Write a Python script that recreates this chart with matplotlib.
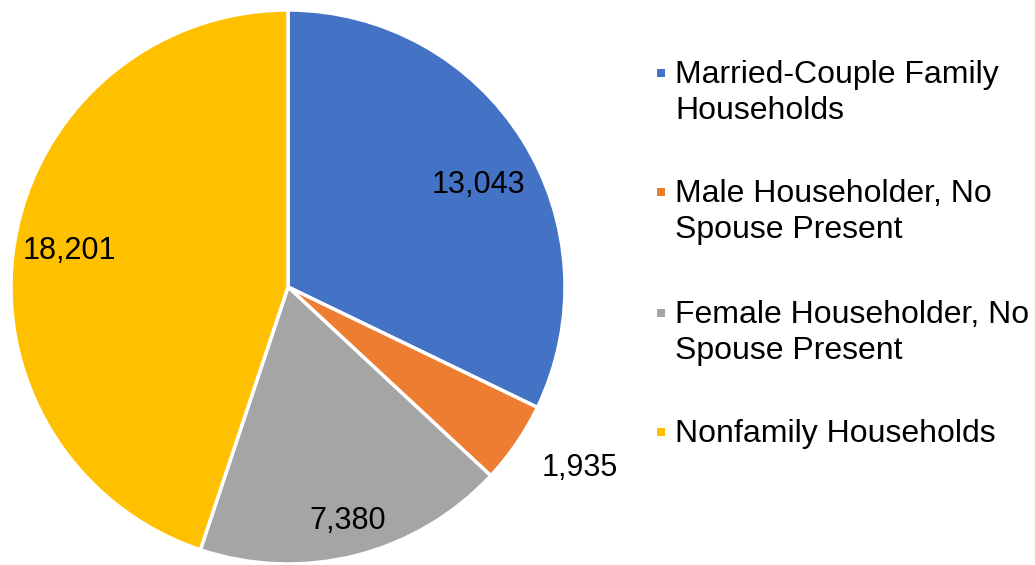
import numpy as np
import matplotlib.pyplot as plt
from matplotlib.patches import Rectangle

plt.rcParams['font.family'] = ['Liberation Sans', 'DejaVu Sans']

categories = [
    "Married-Couple Family\nHouseholds",
    "Male Householder, No\nSpouse Present",
    "Female Householder, No\nSpouse Present",
    "Nonfamily Households",
]
values = [13043, 1935, 7380, 18201]
colors = ["#4472C4", "#ED7D31", "#A5A5A5", "#FFC000"]

# label placement: radial distance (in radii) and angular nudge (degrees)
label_dist = [0.78, 1.24, 0.87, 0.80]
label_nudge = [-4.0, 2.5, 0.0, 0.0]

W, H = 1035, 565
fig = plt.figure(figsize=(W / 100, H / 100), dpi=100)
fig.patch.set_facecolor("white")

# pie axes: centre (288, 287) px, radius 277 px
cx, cy, r = 288, 287, 277
ax = fig.add_axes([(cx - r) / W, (H - cy - r) / H, 2 * r / W, 2 * r / H])
wedges, _ = ax.pie(values, colors=colors, startangle=90, counterclock=False,
                   radius=1.0, wedgeprops=dict(edgecolor="white", linewidth=2.5))
ax.set_xlim(-1, 1)
ax.set_ylim(-1, 1)
ax.set_aspect("equal")
ax.axis("off")

for w, v, d, n in zip(wedges, values, label_dist, label_nudge):
    mid = np.deg2rad((w.theta1 + w.theta2) / 2 + n)
    ax.text(d * np.cos(mid), d * np.sin(mid), f"{v:,}", ha="center", va="center",
            fontsize=22, color="#000000")

# legend drawn in pixel coordinates
baselines = [83, 202, 323, 442]
for lab, col, yb in zip(categories, colors, baselines):
    fig.patches.append(Rectangle((657 / W, (H - yb + 6) / H), 8 / W, 8 / H,
                                 transform=fig.transFigure, facecolor=col,
                                 edgecolor="none"))
    for i, ln in enumerate(lab.split("\n")):
        fig.text(675 / W, (H - yb - 36 * i) / H, ln, ha="left", va="baseline",
                 fontsize=23, color="#000000")

fig.savefig("out.png", dpi=100, facecolor="white")
